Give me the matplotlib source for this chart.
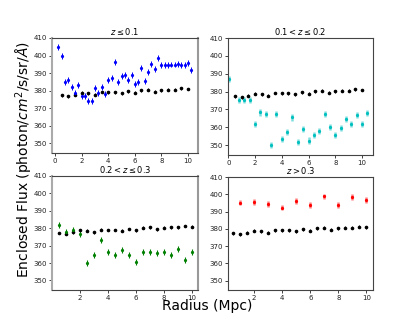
import matplotlib
matplotlib.use("Agg")
import matplotlib.pyplot as plt
import numpy as np

# reference (black) profile
ref_r = [0.5, 1.0, 1.5, 2.0, 2.5, 3.0, 3.5, 4.0, 4.5, 5.0,
         5.5, 6.0, 6.5, 7.0, 7.5, 8.0, 8.5, 9.0, 9.5, 10.0]
ref_f = [377.3, 376.7, 377.7, 378.8, 378.5, 377.7, 379.2, 379.0, 379.0, 378.6,
         379.6, 378.8, 380.2, 380.6, 379.4, 380.2, 380.6, 380.6, 381.3, 380.9]

# z <= 0.1 (blue)
r1 = [0.25, 0.5, 0.75, 1.0, 1.25, 1.5, 1.75, 2.0, 2.25, 2.5, 2.75, 3.0, 3.25, 3.5,
      3.75, 4.0, 4.25, 4.5, 4.75, 5.0, 5.25, 5.5, 5.75, 6.0, 6.25, 6.5, 6.75, 7.0,
      7.25, 7.5, 7.75, 8.0, 8.25, 8.5, 8.75, 9.0, 9.25, 9.5, 9.75, 10.0, 10.25]
f1 = [404.6, 399.5, 385.0, 386.3, 382.3, 378.8, 383.4, 377.1, 377.1, 374.1, 373.9,
      381.3, 378.6, 382.3, 378.3, 385.9, 387.4, 396.4, 385.0, 388.4, 388.8, 386.3,
      388.8, 384.0, 384.8, 392.8, 385.5, 390.5, 395.1, 392.4, 398.5, 394.7, 394.5,
      394.7, 394.9, 394.9, 395.1, 394.7, 394.7, 395.9, 392.0]

# 0.1 < z <= 0.2 (cyan)
r2 = [0.05, 0.8, 1.2, 1.6, 2.0, 2.4, 2.8, 3.2, 3.6, 4.0, 4.4, 4.8, 5.2, 5.6, 6.0,
      6.4, 6.8, 7.2, 7.6, 8.0, 8.4, 8.8, 9.2, 9.6, 10.0, 10.4]
f2 = [386.9, 375.2, 375.2, 375.4, 361.6, 368.3, 367.6, 350.3, 367.2, 353.4, 357.6,
      365.5, 351.9, 358.8, 352.6, 355.7, 358.0, 367.7, 360.1, 355.7, 359.5, 364.9,
      361.6, 366.8, 361.8, 367.9]

# 0.2 < z <= 0.3 (green)
r3 = ref_r
f3 = [381.9, 377.7, 378.8, 376.5, 360.0, 364.4, 373.3, 366.5, 364.4, 367.4,
      364.4, 360.6, 366.5, 366.5, 365.5, 366.5, 364.8, 368.2, 361.7, 366.3]

# z > 0.3 (red)
r4 = [1.0, 2.0, 3.0, 4.0, 5.0, 6.0, 7.0, 8.0, 9.0, 10.0]
f4 = [395.2, 395.6, 394.2, 392.3, 396.2, 394.0, 398.7, 394.0, 398.5, 396.8]

titles = [r"$z \leq 0.1$", r"$0.1 < z \leq 0.2$", r"$0.2 < z \leq 0.3$", r"$z > 0.3$"]

fig = plt.figure(figsize=(4.15, 3.32), dpi=100)
W, H = 415, 332
boxes = [(52, 38, 198, 153), (228, 38, 373, 155), (52, 176, 198, 290), (228, 177, 373, 290)]
xlims = [(-0.23, 10.75), (-0.02, 10.82), (0.0, 10.45), (0.14, 10.47)]
axes = []
for (x0, y0, x1, y1) in boxes:
    axes.append(fig.add_axes([x0 / W, 1 - y1 / H, (x1 - x0) / W, (y1 - y0) / H]))

series = [(r1, f1, "#0000ff", 1.0, 0.7), (r2, f2, "#00bfbf", 0.5, 1.8),
          (r3, f3, "#008000", 1.0, 0.8), (r4, f4, "#ff0000", 0.5, 1.8)]

for i, ax in enumerate(axes):
    ax.errorbar(ref_r, ref_f, yerr=0.8, fmt='o', ms=1.6, color='black',
                ecolor='black', elinewidth=0.6, capsize=0)
    r, f, c, a, lw = series[i]
    eb = ax.errorbar(r, f, yerr=1.7, fmt='o', ms=1.3, color=c, ecolor=c,
                     elinewidth=lw, capsize=0)
    for coll in eb[2]:
        coll.set_alpha(a)
    ax.set_ylim(344.5, 410)
    ax.set_xlim(*xlims[i])
    ax.set_yticks([350, 360, 370, 380, 390, 400, 410])
    if i >= 2:
        ax.set_xticks([2, 4, 6, 8, 10])
    else:
        ax.set_xticks([0, 2, 4, 6, 8, 10])
    ax.tick_params(labelsize=5, length=2, width=0.6, pad=1.5, colors='#222222')
    ax.set_title(titles[i], fontsize=6, pad=2)
    for s in ax.spines.values():
        s.set_color('#444444')
        s.set_linewidth(0.8)
    if i in (0, 2):
        ax.spines['left'].set_color('#aaaaaa')
        ax.spines['left'].set_linewidth(1.5)
        ax.spines['right'].set_color('#999999')
        ax.spines['right'].set_linewidth(1.5)

fig.text(0.058, 0.52, r"Enclosed Flux (photon/$cm^2$/s/sr/$\AA$)", rotation=90,
         ha='center', va='center', fontsize=10)
fig.text(0.5, 0.077, "Radius (Mpc)", ha='center', va='center', fontsize=10)

fig.savefig("out.png", dpi=100)
